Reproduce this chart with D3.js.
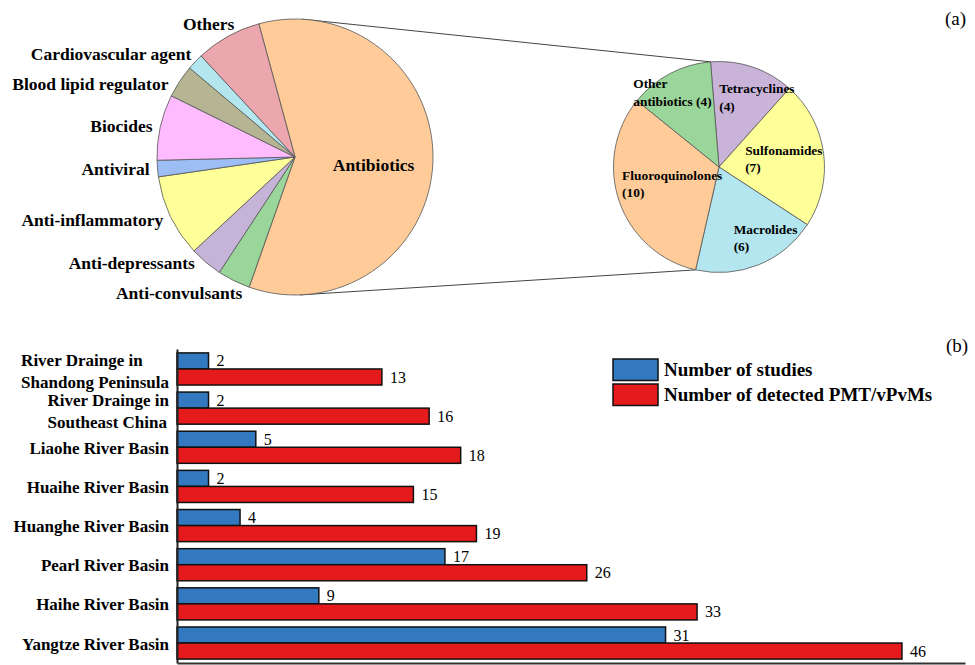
<!DOCTYPE html>
<html>
<head>
<meta charset="utf-8">
<script src="https://cdn.jsdelivr.net/npm/d3@7"></script>
<style>
body { margin: 0; background: #fff; }
text { font-family: "Liberation Serif", "Times New Roman", serif; }
</style>
</head>
<body>
<script>
// (a) compound classes
var classNames = ["Antibiotics", "Anti-convulsants", "Anti-depressants", "Anti-inflammatory", "Antiviral",
  "Biocides", "Blood lipid regulator", "Cardiovascular agent", "Others"];
var classCounts = [31, 2, 2, 5, 1, 4, 2, 1, 4];
var classColors = ["#ffcc99", "#9ad59a", "#c6b4d8", "#ffff99", "#9dbdf5", "#ffbbff", "#b5b594", "#b3e6ee", "#eba6ae"];

// antibiotics breakdown
var abNames = ["Tetracyclines", "Sulfonamides", "Macrolides", "Fluoroquinolones", "Other antibiotics"];
var abCounts = [4, 7, 6, 10, 4];
var abColors = ["#c9b3d9", "#ffff99", "#b3e6ee", "#ffcc99", "#9ad59a"];
// hand placed label offsets from the slice centroid (layout only)
var abLabelShift = [[17, -7], [0, 1], [22, 11], [15, -4], [-16, -16]];

// (b) river basins
var basins = ["River Drainge in\nShandong Peninsula", "River Drainge in\nSoutheast China", "Liaohe River Basin",
  "Huaihe River Basin", "Huanghe River Basin", "Pearl River Basin", "Haihe River Basin", "Yangtze River Basin"];
var studies = [2, 2, 5, 2, 4, 17, 9, 31];
var detected = [13, 16, 18, 15, 19, 26, 33, 46];
var seriesNames = ["Number of studies", "Number of detected PMT/vPvMs"];
var seriesColors = ["#3379c0", "#e41a1c"];

var width = 975, height = 665;
var svg = d3.select("body").append("svg").attr("width", width).attr("height", height);

var rad = Math.PI / 180;

// ---------- (a) left pie ----------
var c1 = {x: 295, y: 157}, r1 = 138;
var pie1 = d3.pie().sort(null).startAngle(-15.2 * rad).endAngle(344.8 * rad);
var arcs1 = pie1(classCounts);
var arc1 = d3.arc().innerRadius(0).outerRadius(r1);

// connector lines first so pies sit on top
var c2 = {x: 719, y: 167}, r2 = 105.5;
var pie2 = d3.pie().sort(null).startAngle(-4.6 * rad).endAngle(355.4 * rad);
var arcs2 = pie2(abCounts);
function pt(c, r, a) { return [c.x + r * Math.sin(a), c.y - r * Math.cos(a)]; }
var links = [
  [pt(c1, r1, 3 * rad), pt(c2, r2, arcs2[0].startAngle)],
  [pt(c1, r1, 178 * rad), pt(c2, r2, arcs2[2].endAngle)]
];
svg.append("g").selectAll("line").data(links).join("line")
  .attr("x1", d => d[0][0]).attr("y1", d => d[0][1])
  .attr("x2", d => d[1][0]).attr("y2", d => d[1][1])
  .attr("stroke", "#444").attr("stroke-width", 1);

var g1 = svg.append("g").attr("transform", "translate(" + c1.x + "," + c1.y + ")");
g1.selectAll("path").data(arcs1).join("path")
  .attr("d", arc1)
  .attr("fill", (d, i) => classColors[i])
  .attr("stroke", "#555").attr("stroke-width", 0.8);

// outside labels: start at arc, then spread vertically so they don't collide
var labR = 146, minGap = 30;
var outLabs = arcs1.slice(1).map(function (d, i) {
  var a = (d.startAngle + d.endAngle) / 2;
  return {name: classNames[i + 1], y: -labR * Math.cos(a)};
});
outLabs.sort((a, b) => a.y - b.y);
for (var it = 0; it < 50; it++) {
  for (var k = 1; k < outLabs.length; k++) {
    var gap = outLabs[k].y - outLabs[k - 1].y;
    if (gap < minGap) {
      var push = (minGap - gap) / 2;
      outLabs[k].y += push;
      outLabs[k - 1].y -= push;
    }
  }
}
outLabs.forEach(function (l) {
  var yy = Math.max(-labR + 1, Math.min(labR - 1, l.y));
  l.x = -Math.sqrt(labR * labR - yy * yy);
});
g1.selectAll("text.lab").data(outLabs).join("text")
  .attr("class", "lab")
  .attr("x", d => d.x)
  .attr("y", d => d.y)
  .attr("dy", "0.35em")
  .attr("text-anchor", "end")
  .style("font-size", "17.5px").style("font-weight", "bold")
  .text(d => d.name);

var inArc = d3.arc().innerRadius(r1 * 0.57).outerRadius(r1 * 0.57);
g1.append("text")
  .attr("x", inArc.centroid(arcs1[0])[0])
  .attr("y", inArc.centroid(arcs1[0])[1] + 5)
  .attr("dy", "0.35em")
  .attr("text-anchor", "middle")
  .style("font-size", "17.5px").style("font-weight", "bold")
  .text(classNames[0]);

// ---------- right pie ----------
var arc2 = d3.arc().innerRadius(0).outerRadius(r2);
var g2 = svg.append("g").attr("transform", "translate(" + c2.x + "," + c2.y + ")");
g2.selectAll("path").data(arcs2).join("path")
  .attr("d", arc2)
  .attr("fill", (d, i) => abColors[i])
  .attr("stroke", "#555").attr("stroke-width", 0.8);

var abArc = d3.arc().innerRadius(r2 * 0.62).outerRadius(r2 * 0.62);
arcs2.forEach(function (d, i) {
  var name = abNames[i], lines;
  if (name.indexOf(" ") > 0) {
    var sp = name.indexOf(" ");
    lines = [name.slice(0, sp), name.slice(sp + 1) + " (" + abCounts[i] + ")"];
  } else {
    lines = [name, "(" + abCounts[i] + ")"];
  }
  var cen = abArc.centroid(d);
  var cx = cen[0] + abLabelShift[i][0], cy = cen[1] + abLabelShift[i][1];
  var t = g2.append("text").style("font-size", "13.4px").style("font-weight", "bold");
  lines.forEach(function (l, j) {
    t.append("tspan").attr("y", cy - 4.7 + j * 17.4).text(l);
  });
  var w = d3.max(t.selectAll("tspan").nodes(), n => n.getComputedTextLength());
  t.selectAll("tspan").attr("x", cx - w / 2);
});

svg.append("text").attr("x", 945).attr("y", 25).style("font-size", "19px").text("(a)");
svg.append("text").attr("x", 946).attr("y", 352).style("font-size", "19px").text("(b)");

// ---------- (b) bars ----------
var x = d3.scaleLinear().domain([0, 50]).range([177, 965]);
var y = d3.scaleBand().domain(basins).range([349, 663]).paddingInner(0.18).paddingOuter(0.1);
var ySub = d3.scaleBand().domain([0, 1]).range([0, y.bandwidth()]);

var rows = basins.map((b, i) => ({basin: b, vals: [studies[i], detected[i]]}));

var gb = svg.append("g");
var grp = gb.selectAll("g.row").data(rows).join("g").attr("class", "row")
  .attr("transform", d => "translate(0," + y(d.basin) + ")");
grp.selectAll("rect").data(d => d.vals).join("rect")
  .attr("x", x(0))
  .attr("y", (d, i) => ySub(i))
  .attr("width", d => x(d) - x(0))
  .attr("height", ySub.bandwidth())
  .attr("fill", (d, i) => seriesColors[i])
  .attr("stroke", "#111").attr("stroke-width", 1.5);
grp.selectAll("text.val").data(d => d.vals).join("text")
  .attr("class", "val")
  .attr("x", d => x(d) + 8)
  .attr("y", (d, i) => ySub(i) + ySub.bandwidth() - 2.5)
  .style("font-size", "16px")
  .text(d => d);

// category labels (multi-line ones left aligned)
basins.forEach(function (b) {
  var lines = b.split("\n");
  var mid = y(b) + y.bandwidth() / 2;
  var t = svg.append("text").style("font-size", "17px").style("font-weight", "bold");
  lines.forEach(function (l, j) {
    var base = lines.length === 1 ? mid + 6.5 : mid - 2.6 + j * 22;
    t.append("tspan").attr("y", base).text(l);
  });
  var w = d3.max(t.selectAll("tspan").nodes(), n => n.getComputedTextLength());
  t.selectAll("tspan").attr("x", 169 - w);
});

svg.append("g").attr("transform", "translate(177,0)")
  .call(d3.axisLeft(y).tickValues([]).tickSizeOuter(0))
  .select(".domain").attr("stroke", "#222").attr("stroke-width", 2);
svg.append("g").attr("transform", "translate(0,663)")
  .call(d3.axisBottom(x).tickValues([]).tickSizeOuter(0))
  .select(".domain").attr("stroke", "#333").attr("stroke-width", 2);

// legend
var lg = svg.append("g").attr("transform", "translate(613,359)");
var li = lg.selectAll("g").data(seriesNames).join("g")
  .attr("transform", (d, i) => "translate(0," + i * 25 + ")");
li.append("rect").attr("width", 45).attr("height", 21.5)
  .attr("fill", (d, i) => seriesColors[i])
  .attr("stroke", "#111").attr("stroke-width", 1.5);
li.append("text").attr("x", 51).attr("y", 16.5)
  .style("font-size", "19px").style("font-weight", "bold")
  .text(d => d);
</script>
</body>
</html>
